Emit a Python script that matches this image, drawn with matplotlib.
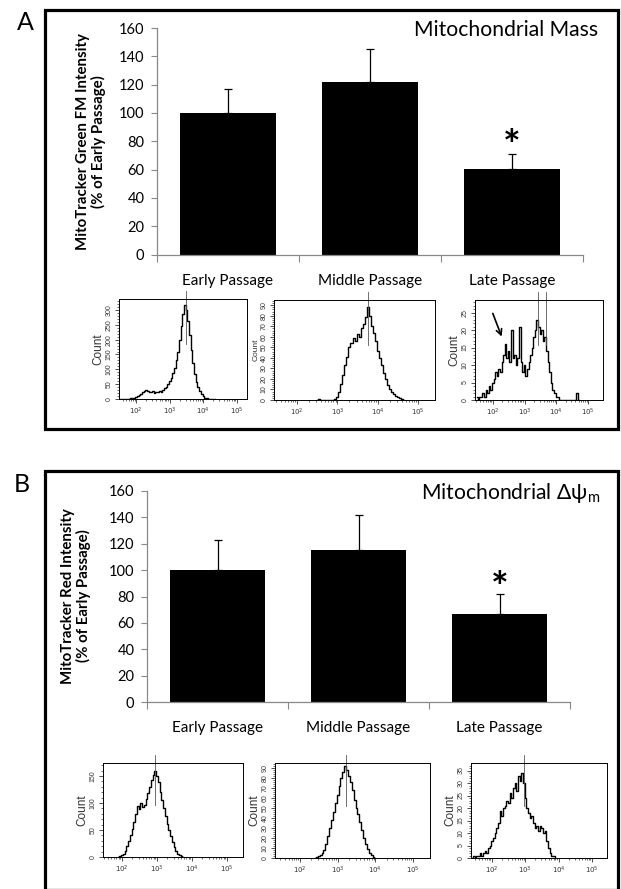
import matplotlib
matplotlib.use('Agg')
import matplotlib.pyplot as plt
import numpy as np
from matplotlib.patches import Rectangle
from matplotlib.ticker import FixedLocator, NullFormatter

plt.rcParams['font.family'] = ['Lato', 'DejaVu Sans']

# bar charts (% of early passage)
categories = ['Early Passage', 'Middle Passage', 'Late Passage']
green_mean = [100, 122, 60.5]
green_err = [17, 23.5, 10.5]
red_mean = [100, 115, 67]
red_err = [22.5, 26.5, 15]

# flow histograms: counts in 0.05 decade bins, first bin at *_start (log10)
early_green_start = 1.5
early_green = [0, 0, 0, 1, 0, 1, 0, 2, 3, 5, 8, 10, 14, 18, 22, 26, 30, 27, 25, 23,
               27, 21, 25, 22, 28, 25, 32, 36, 42, 50, 60, 72, 88, 106, 130, 160, 200, 245, 285, 318,
               300, 262, 214, 165, 120, 85, 58, 40, 26, 16, 9, 5, 3, 1, 0, 0, 0, 0]
middle_green_start = 2.5
middle_green = [0, 1, 0, 0, 0, 0, 0, 0, 0, 1, 3, 8, 15, 24, 33, 41, 50, 54, 59, 56,
                63, 60, 68, 72, 79, 88, 80, 70, 64, 56, 47, 40, 33, 26, 20, 14, 10, 8, 6, 4,
                3, 2, 1, 0]
late_green_start = 1.5
late_green = [1, 0, 1, 1, 2, 1, 3, 2, 4, 3, 5, 6, 8, 7, 9, 8, 11, 13, 16, 12,
              14, 11, 20, 12, 13, 10, 12, 21, 11, 8, 10, 7, 9, 11, 13, 15, 18, 20, 23, 21,
              19, 20, 17, 18, 14, 11, 8, 5, 3, 2, 1, 1, 0, 0, 0, 0, 0, 0, 0, 0,
              0, 0, 0, 2, 0]
early_red_start = 1.9
early_red = [0, 1, 3, 6, 12, 20, 30, 40, 52, 65, 80, 95, 88, 100, 92, 96, 108, 118, 130, 142,
             152, 160, 150, 138, 120, 105, 90, 75, 62, 50, 38, 28, 18, 11, 6, 3, 1, 0]
middle_red_start = 2.4
middle_red = [0, 1, 2, 3, 5, 8, 14, 22, 30, 38, 46, 55, 63, 72, 80, 86, 92, 88, 82, 76,
              68, 58, 50, 44, 36, 28, 20, 14, 9, 5, 3, 1, 0]
late_red_start = 1.4
late_red = [0, 1, 0, 1, 1, 2, 1, 2, 3, 2, 4, 5, 7, 8, 10, 12, 14, 19, 17, 20,
            21, 23, 22, 26, 24, 28, 30, 27, 33, 31, 34, 30, 24, 20, 18, 16, 17, 14, 12, 13,
            11, 13, 12, 10, 11, 7, 4, 2, 1, 1, 0]

W, H = 621, 889
fig = plt.figure(figsize=(W / 100, H / 100), dpi=100)


def rect(x0, y0, x1, y1):
    # pixel box (top-left origin) -> figure fraction
    return [x0 / W, 1 - y1 / H, (x1 - x0) / W, (y1 - y0) / H]


def frame(x0, y0, x1, y1, letter, lx, ly):
    fig.add_artist(Rectangle((x0 / W, 1 - y1 / H), (x1 - x0) / W, (y1 - y0) / H,
                             transform=fig.transFigure, fill=False, lw=2.3, ec='black'))
    fig.text(lx / W, 1 - ly / H, letter, fontsize=18, ha='center', va='center')


def bar_panel(box, means, errs, star_y, ylab, title, title_xy, ylab_xy):
    ax = fig.add_axes(rect(*box))
    x = np.arange(len(categories))
    ax.errorbar(x, means, yerr=[np.zeros(len(errs)), errs], fmt='none', ecolor='black',
                elinewidth=0.9, capsize=3.2, capthick=0.9, zorder=1)
    ax.bar(x, means, width=0.675, color='black', zorder=2)
    ax.text(2, star_y, '*', fontsize=30, fontweight='bold', ha='center', va='center')
    ax.set_xlim(-0.5, 2.5)
    ax.set_ylim(0, 160)
    ax.set_yticks(range(0, 161, 20))
    ax.tick_params(axis='y', labelsize=10.5, length=4, width=0.8, color='#888888', pad=5)
    ax.set_xticks(x)
    ax.set_xticklabels(categories, fontsize=11)
    ax.tick_params(axis='x', length=0, pad=14)
    ax.xaxis.set_minor_locator(FixedLocator([-0.5, 0.5, 1.5, 2.5]))
    ax.tick_params(axis='x', which='minor', length=5, width=0.8, color='#888888')
    for s in ['top', 'right']:
        ax.spines[s].set_visible(False)
    for s in ['left', 'bottom']:
        ax.spines[s].set_color('#888888')
        ax.spines[s].set_linewidth(0.9)
    fig.text(ylab_xy[0] / W, 1 - ylab_xy[1] / H, ylab, rotation=90, fontsize=10.8,
             fontweight='bold', ha='center', va='center', multialignment='center',
             linespacing=1.1)
    fig.text(title_xy[0] / W, 1 - title_xy[1] / H, title, fontsize=15.2,
             ha='right', va='center')
    return ax


def histo(box, start, counts, ymax, ystep, yminor, xlim, gates, count_size=8.5):
    ax = fig.add_axes(rect(*box))
    bins = start + 0.05 * np.arange(len(counts))
    ax.plot(10 ** bins, counts, color='black', lw=1.0, drawstyle='steps-mid')
    for g in gates:
        ax.plot([10 ** g, 10 ** g], [ymax * 0.55, ymax * 1.08], color='#555555',
                lw=0.6, clip_on=False)
    ax.set_xscale('log')
    ax.set_xlim(10 ** xlim[0], 10 ** xlim[1])
    ax.set_ylim(0, ymax)
    ax.set_xticks([1e2, 1e3, 1e4, 1e5])
    ax.set_xticklabels(['$10^2$', '$10^3$', '$10^4$', '$10^5$'])
    ax.xaxis.set_minor_locator(FixedLocator([k * 10 ** d for d in range(1, 5)
                                             for k in range(2, 10)]))
    ax.xaxis.set_minor_formatter(NullFormatter())
    ax.set_yticks(np.arange(0, ymax, ystep))
    ax.yaxis.set_minor_locator(FixedLocator(np.arange(0, ymax, yminor)))
    ax.tick_params(which='major', labelsize=5, length=3, width=0.6, pad=1.5,
                   colors='#333333')
    ax.tick_params(which='minor', length=1.5, width=0.5, color='#333333')
    plt.setp(ax.get_yticklabels(), rotation=90, va='center')
    for s in ax.spines.values():
        s.set_linewidth(0.7)
    ax.set_ylabel('Count', fontsize=count_size, family=['Liberation Sans'], labelpad=1,
                  color='#333333')
    for lab in ax.get_xticklabels() + ax.get_yticklabels():
        lab.set_family(['Liberation Sans', 'DejaVu Sans'])
    return ax


# ---- panel A ----
frame(45, 10, 618, 429, 'A', 25, 22)
bar_panel((157, 28, 583, 254.5), green_mean, green_err, 75,
          'MitoTracker Green FM Intensity\n(% of Early Passage)',
          'Mitochondrial Mass', (598, 30), (91, 142))
histo((119, 299, 247, 399), early_green_start, early_green, 337, 50, 10,
      (1.49, 5.3), [3.47])
histo((274, 300, 435, 400), middle_green_start, middle_green, 95, 10, 2,
      (1.43, 5.42), [3.76], count_size=6)
ax3 = histo((475, 300, 603, 400), late_green_start, late_green, 28.6, 5, 1,
            (1.44, 5.47), [3.41, 3.69])
ax3.annotate('', xy=(10 ** 2.31, 17.4), xytext=(10 ** 1.97, 25.5),
             arrowprops=dict(arrowstyle='->', lw=1.2, color='black'))

# ---- panel B ----
frame(45, 471, 618, 890, 'B', 22, 485)
bar_panel((147, 491, 570, 702), red_mean, red_err, 85,
          'MitoTracker Red Intensity\n(% of Early Passage)',
          'Mitochondrial \u0394\u03c8$_\\mathregular{m}$', (600, 493), (76, 596))
histo((103, 763, 243, 857), early_red_start, early_red, 174, 50, 10,
      (1.46, 5.46), [2.95])
histo((275, 763, 430, 858), middle_red_start, middle_red, 95, 10, 2,
      (1.34, 5.45), [3.22])
histo((471, 763, 607, 858), late_red_start, late_red, 38, 5, 1,
      (1.37, 5.45), [2.96])

fig.savefig('out.png', dpi=100)
